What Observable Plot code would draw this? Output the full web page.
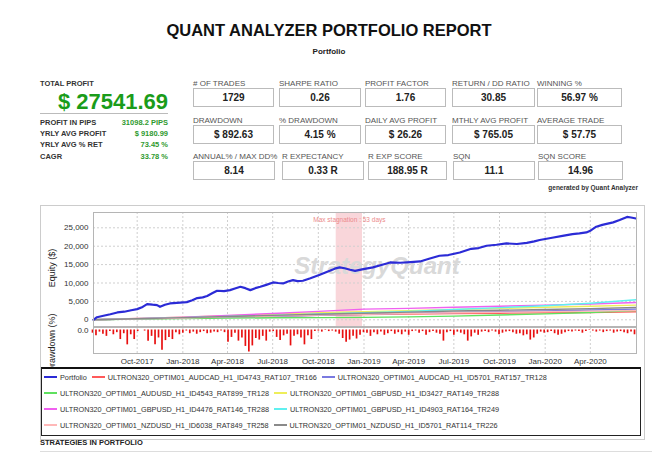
<!DOCTYPE html>
<html><head><meta charset="utf-8">
<script src="https://cdn.jsdelivr.net/npm/d3@7"></script>
<script src="https://cdn.jsdelivr.net/npm/@observablehq/plot@0.6"></script>
<style>
body{margin:0;width:658px;height:457px;position:relative;background:#fff;font-family:"Liberation Sans",Arial,sans-serif;overflow:hidden;color:#333}
.a{position:absolute;white-space:nowrap;line-height:1}
.box{position:absolute;border:1px solid #bbb;box-sizing:border-box;display:flex;align-items:center;justify-content:center;font-weight:bold;font-size:10px;color:#222}
.lg{position:absolute;left:41px;top:367px;width:600px;height:69px;border:1px solid #222;border-top:2px solid #111;box-sizing:border-box;background:#fff;padding:0 0 0 2px;display:flex;flex-wrap:wrap;align-content:flex-start;font-size:7.3px;color:#333}
.li{display:flex;align-items:center;height:16px;margin-right:5px}
.sw{width:13px;height:2px;margin-right:3px}
svg.plt{position:absolute;left:0}
</style></head><body>
<script>
// ---------- DATA ----------
const reportTitle = "QUANT ANALYZER PORTFOLIO REPORT";
const reportSubtitle = "Portfolio";
const totalProfitLabel = "TOTAL PROFIT";
const totalProfitValue = "$ 27541.69";
const leftLabels = ["PROFIT IN PIPS", "YRLY AVG PROFIT", "YRLY AVG % RET", "CAGR"];
const leftValues = ["31098.2 PIPS", "$ 9180.99", "73.45 %", "33.78 %"];
const statLabels1 = ["# OF TRADES", "SHARPE RATIO", "PROFIT FACTOR", "RETURN / DD RATIO", "WINNING %"];
const statValues1 = ["1729", "0.26", "1.76", "30.85", "56.97 %"];
const statLabels2 = ["DRAWDOWN", "% DRAWDOWN", "DAILY AVG PROFIT", "MTHLY AVG PROFIT", "AVERAGE TRADE"];
const statValues2 = ["$ 892.63", "4.15 %", "$ 26.26", "$ 765.05", "$ 57.75"];
const statLabels3 = ["ANNUAL% / MAX DD%", "R EXPECTANCY", "R EXP SCORE", "SQN", "SQN SCORE"];
const statValues3 = ["8.14", "0.33 R", "188.95 R", "11.1", "14.96"];
const generatedBy = "generated by Quant Analyzer";
const sectionTitle = "STRATEGIES IN PORTFOLIO";

const xDomain = ["2017-07-05", "2020-07-03"];
const xTicks = ["2017-10-01", "2018-01-01", "2018-04-01", "2018-07-01", "2018-10-01", "2019-01-01",
  "2019-04-01", "2019-07-01", "2019-10-01", "2020-01-01", "2020-04-01"];
const yTicks = [0, 5000, 10000, 15000, 20000, 25000];
const equityLabel = "Equity ($)";
const drawdownLabel = "Drawdown (%)";
const watermark = "StrategyQuant";
const stagnationStart = "2018-11-06";
const stagnationEnd = "2018-12-29";
const stagnationLabel = "Max stagnation : 53 days";

const portfolioName = "Portfolio";
const portfolioDates = ["2017-07-05","2017-07-12","2017-07-25","2017-08-08","2017-08-22","2017-09-05","2017-09-19","2017-10-01",
  "2017-10-12","2017-10-21","2017-11-01","2017-11-10","2017-11-16","2017-11-26","2017-12-06","2017-12-20","2018-01-09",
  "2018-01-20","2018-01-30","2018-02-10","2018-02-19","2018-03-01","2018-03-11","2018-03-25","2018-04-06","2018-04-16",
  "2018-04-27","2018-05-07","2018-05-17","2018-05-27","2018-06-06","2018-06-18","2018-07-02","2018-07-12","2018-07-22",
  "2018-08-01","2018-08-11","2018-08-20","2018-08-31","2018-09-15","2018-10-04","2018-10-14","2018-10-24","2018-11-03",
  "2018-11-13","2018-11-23","2018-12-04","2018-12-14","2018-12-28","2019-01-19","2019-02-05","2019-02-23","2019-03-15",
  "2019-04-05","2019-04-24","2019-05-12","2019-06-02","2019-06-20","2019-07-13","2019-08-05","2019-08-20","2019-09-05",
  "2019-09-25","2019-10-15","2019-11-05","2019-11-25","2019-12-10","2019-12-21","2020-01-15","2020-02-05","2020-02-25",
  "2020-03-10","2020-03-24","2020-04-02","2020-04-13","2020-04-25","2020-05-17","2020-05-30","2020-06-14","2020-06-22","2020-07-02"];
const portfolioEquity = [0,700,1100,1500,2000,2200,2600,2900,
  3500,4270,4100,4000,3540,4100,4440,4600,4800,
  5300,5900,6100,6480,7200,7900,7800,8070,8500,
  8980,8600,8070,8600,8980,9500,10150,10000,9880,
  10400,10790,10500,10610,11300,12240,12800,13330,13900,
  14240,14000,13600,13300,13700,14240,14900,15590,15500,
  15700,15860,16600,17400,17600,18300,19300,19500,20130,
  20400,20760,20600,20900,21300,21680,22300,22800,23300,
  23500,23750,24300,25300,25800,26470,27100,27950,27800,27541];

const strategyNames = [
  "ULTRON320_OPTIM01_AUDCAD_H1_ID4743_RAT107_TR166",
  "ULTRON320_OPTIM01_AUDCAD_H1_ID5701_RAT157_TR128",
  "ULTRON320_OPTIM01_AUDUSD_H1_ID4543_RAT899_TR128",
  "ULTRON320_OPTIM01_GBPUSD_H1_ID3427_RAT149_TR288",
  "ULTRON320_OPTIM01_GBPUSD_H1_ID4476_RAT146_TR288",
  "ULTRON320_OPTIM01_GBPUSD_H1_ID4903_RAT164_TR249",
  "ULTRON320_OPTIM01_NZDUSD_H1_ID6038_RAT849_TR258",
  "ULTRON320_OPTIM01_NZDUSD_H1_ID5701_RAT114_TR226"];
const strategyDates = ["2017-07-05","2017-10-01","2018-01-01","2018-04-01","2018-07-01","2018-10-01","2019-01-01",
  "2019-04-01","2019-07-01","2019-10-01","2020-01-01","2020-04-01","2020-07-02"];
const audcad4743 = [0,250,500,750,1000,1200,1400,1550,1700,1800,1900,2000,2170];
const audcad5701 = [0,250,450,700,900,1200,1500,1800,2000,2200,2400,2650,2900];
const audusd4543 = [0,200,350,450,550,600,650,800,1000,1300,1600,2000,2500];
const gbpusd3427 = [0,350,700,1100,1500,1900,2200,2500,2800,3100,3400,3700,4000];
const gbpusd4476 = [0,400,700,1200,1700,2300,2900,3100,3400,3700,4000,4300,4710];
const gbpusd4903 = [0,300,550,900,1200,1600,1900,2300,2800,3300,3800,4500,5440];
const nzdusd6038 = [0,250,500,800,1000,1300,1500,1700,1900,2050,2200,2350,2500];
const nzdusd5701 = [0,300,600,900,1200,1500,1800,2100,2400,2600,2800,3050,3350];

const drawdownStartWeek = "2017-07-03";
const weeklyDrawdownPct = [
  0.6,1.1,0.4,0.8,1.2,0.3,0.9,0.5,1.8,0.7,2.8,0.9,1.8,
  0.3,0,0.2,
  2.1,1.2,2.8,1.5,3.8,2.0,1.4,1.8,
  0.5,0.9,0.6,0.2,
  0.7,0.4,0.8,0.5,0.3,0.7,0.6,0.4,0.5,
  0.2,0.5,2.3,1.4,0.6,
  2.1,1.5,3.1,4.15,3.0,1.6,1.9,1.2,2.1,
  0.4,0.3,
  1.4,2.0,1.1,0.8,3.0,1.2,0.9,1.5,2.8,1.1,1.8,
  0.3,0.2,0.4,0.1,0.3,0.2,0.4,
  0.8,1.6,2.3,1.9,1.2,1.7,1.0,0.5,
  0.6,1.2,0.5,0.9,0.4,1.0,0.7,0.3,0.8,0.5,0.9,0.4,
  1.0,0.3,0.2,0.6,0.3,1.0,0.5,0.3,0.6,0.8,2.1,
  0.5,0.3,1.0,0.4,0.6,0.9,
  2.1,1.3,0.6,1.0,0.4,0.3,0.5,0.2,0.4,0.9,
  0.6,0.4,0.3,0.5,0.8,0.7,1.1,0.9,
  1.9,1.5,0.8,0.4,0.6,0.5,0.3,0.7,
  1.0,0.8,0.5,0.3,0.4,0.2,0.3,0.6,
  0.3,0.1,0.2,0.4,0.2,0.5,0.3,0.2,0.6,0.4,0.3,0.5,0.7,0.4,0.9];

// ---------- STYLE ----------
const portfolioColor = "#2b2bd6";
const strategyColors = ["#ff5a5a", "#7a7ae0", "#5ee05e", "#eeee5a", "#f060f0", "#60f0f0", "#ffb8b8", "#8a8a8a"];
const strategySeries = [audcad4743, audcad5701, audusd4543, gbpusd3427, gbpusd4476, gbpusd4903, nzdusd6038, nzdusd5701];

// ---------- HTML PARTS ----------
const B = document.body;
function el(cls, css, text, tag) {
  const e = document.createElement(tag || "div");
  e.className = cls; e.style.cssText = css; if (text != null) e.textContent = text; B.appendChild(e); return e;
}
el("a", "left:0;width:658px;top:22px;text-align:center;font-weight:bold;font-size:16.5px;color:#111", reportTitle);
el("a", "left:0;width:658px;top:48px;text-align:center;font-weight:bold;font-size:8px;color:#222", reportSubtitle);
el("a", "left:40px;top:80px;font-weight:bold;font-size:7.5px;color:#333", totalProfitLabel);
el("a", "left:40px;width:128px;top:91px;text-align:right;font-weight:bold;font-size:22px;color:#1a9c1a", totalProfitValue);
el("a", "left:40px;width:128px;top:113px;height:0;border-top:1px solid #bbb", null);
const leftY = [119, 130, 141, 153];
leftLabels.forEach((t, i) => {
  el("a", `left:40px;top:${leftY[i]}px;font-weight:bold;font-size:7.5px;color:#333`, t);
  el("a", `left:40px;width:128px;text-align:right;top:${leftY[i]}px;font-weight:bold;font-size:7.5px;color:#2f9a2f`, leftValues[i]);
});
const rowsL = [statLabels1, statLabels2, statLabels3];
const rowsV = [statValues1, statValues2, statValues3];
const boxTop = [88, 124.5, 161];
const colX = [[193, 279, 365, 452, 537], [193, 279, 365, 452, 537], [193, 282, 368, 453, 538]];
const colW = [[81, 82, 81, 83, 85], [81, 82, 81, 83, 85], [82, 82, 79, 82, 85]];
rowsL.forEach((labs, r) => labs.forEach((t, c) => {
  el("a", `left:${colX[r][c]}px;top:${boxTop[r] - 8}px;font-size:8px;color:#555`, t);
  el("box", `left:${colX[r][c]}px;top:${boxTop[r]}px;width:${colW[r][c]}px;height:19px`, rowsV[r][c]);
}));
el("a", "left:400px;width:238px;text-align:right;top:185px;font-weight:bold;font-size:6.5px;color:#333", generatedBy);

// chart outer frame
el("a", "left:40px;top:205px;width:605px;height:235px;border:1px solid #ccc;box-sizing:border-box", null);
el("a", `left:52px;top:268px;font-size:9px;color:#222;transform:translate(-50%,-50%) rotate(-90deg)`, equityLabel);
el("a", `left:52px;top:343px;font-size:9px;color:#222;transform:translate(-50%,-50%) rotate(-90deg)`, drawdownLabel);

// ---------- PLOTS ----------
const P = s => new Date(s + "T00:00:00Z");
const xDom = xDomain.map(P);
const xTickDates = xTicks.map(P);
const portfolioRows = portfolioDates.map((d, i) => ({date: P(d), value: portfolioEquity[i]}));
const strategyRows = strategySeries.map(vals => strategyDates.map((d, i) => ({date: P(d), value: vals[i]})));
const ddRows = weeklyDrawdownPct.map((v, i) => ({date: d3.utcDay.offset(P(drawdownStartWeek), 7 * i), dd: -v}));
const stag = [{x1: P(stagnationStart), x2: P(stagnationEnd)}];
const plotStyle = {background: "transparent", fontFamily: "Liberation Sans, Arial, sans-serif", fontSize: "8px", color: "#333", overflow: "visible"};
const grid = {stroke: "#cfcfcf", strokeDasharray: "2,2", strokeWidth: 1};

const equity = Plot.plot({
  width: 658, height: 124,
  marginLeft: 93, marginRight: 22, marginTop: 6, marginBottom: 4,
  style: plotStyle,
  x: {type: "utc", domain: xDom, axis: null},
  y: {domain: [-1820, 29160], ticks: yTicks, tickFormat: d3.format(","), tickSize: 0, tickPadding: 5, label: null},
  marks: [
    Plot.rect(stag, {x1: "x1", x2: "x2", fill: "#f9d6da"}),
    Plot.ruleY(yTicks, grid),
    Plot.ruleX(xTickDates, grid),
    Plot.text([watermark], {frameAnchor: "middle", dx: 12, dy: -3, fontSize: 24, fontWeight: "bold", fontStyle: "italic", fill: "#d9d9d9"}),
    Plot.text([stagnationLabel], {x: () => new Date((stag[0].x1.getTime() + stag[0].x2.getTime()) / 2), frameAnchor: "top", dy: 5, fontSize: 6.5, fill: "#ec8a8a"}),
    ...strategyRows.map((rows, i) => Plot.line(rows, {x: "date", y: "value", stroke: strategyColors[i], strokeWidth: 1.4})),
    Plot.line(portfolioRows, {x: "date", y: "value", stroke: portfolioColor, strokeWidth: 2.2}),
    Plot.frame({stroke: "#b5b5b5"})
  ]
});
equity.classList.add("plt"); equity.style.top = "206px";
B.appendChild(equity);

const drawdown = Plot.plot({
  width: 658, height: 44,
  marginLeft: 93, marginRight: 22, marginTop: 1, marginBottom: 17,
  style: plotStyle,
  x: {type: "utc", domain: xDom, ticks: xTickDates, tickFormat: d3.utcFormat("%b-%Y"), tickSize: 0, tickPadding: 5, label: null},
  y: {domain: [-4.43, 0.47], ticks: [0], tickSize: 0, tickPadding: 5, label: null},
  marks: [
    Plot.ruleX(xTickDates, grid),
    Plot.ruleX(ddRows, {x: "date", y1: 0, y2: "dd", stroke: "#e81010", strokeWidth: 1.7}),
    Plot.frame({stroke: "#b5b5b5"})
  ]
});
drawdown.classList.add("plt"); drawdown.style.top = "326px";
B.appendChild(drawdown);

// ---------- LEGEND ----------
const lg = el("lg", "", null);
const legendNames = [portfolioName, ...strategyNames];
const legendColors = [portfolioColor, ...strategyColors];
legendNames.forEach((n, i) => {
  const it = document.createElement("div"); it.className = "li";
  const sw = document.createElement("div"); sw.className = "sw"; sw.style.background = legendColors[i];
  const tx = document.createElement("span"); tx.textContent = n;
  it.appendChild(sw); it.appendChild(tx); lg.appendChild(it);
});

el("a", "left:40px;top:439px;font-weight:bold;font-size:7.5px;color:#222", sectionTitle);
el("a", "left:40px;top:451px;width:612px;height:0;border-top:1px solid #ddd", null);
</script>
</body></html>
